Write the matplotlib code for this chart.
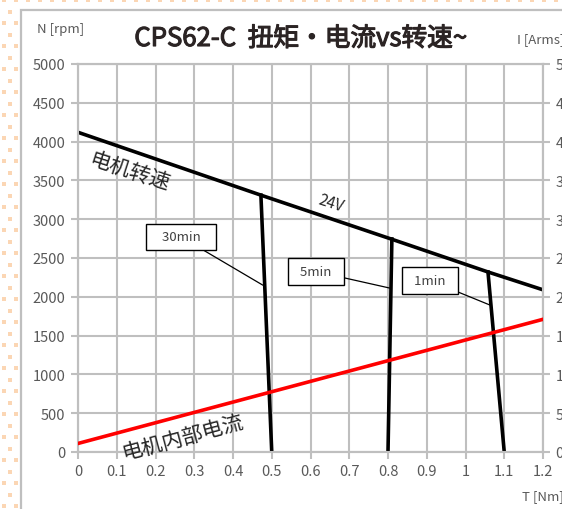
import matplotlib
matplotlib.use("Agg")
import matplotlib.pyplot as plt
import matplotlib.patheffects as pe
from matplotlib.patches import Rectangle
import numpy as np

plt.rcParams['font.family'] = ['Noto Sans CJK JP', 'DejaVu Sans']

# speed-torque line at 24V
torque = [0, 0.472, 0.805, 1.058, 1.2]
speed = [4120, 3310, 2750, 2320, 2090]

# duty limit lines (torque, speed)
lim_30min_t = [0.472, 0.50]
lim_30min_n = [3310, 0]
lim_5min_t = [0.81, 0.80]
lim_5min_n = [2745, 0]
lim_1min_t = [1.058, 1.10]
lim_1min_n = [2320, 0]

# internal current (right axis)
cur_t = [0, 1.2]
cur_i = [1.1, 17.1]

xticks = np.round(np.arange(0, 1.21, 0.1), 1)
xlabels = ['0'] + ['%g' % v for v in xticks[1:]]
yticks = list(range(0, 5001, 500))
y2ticks = list(range(0, 51, 5))

W, H = 562, 510
fig = plt.figure(figsize=(W / 100, H / 100), dpi=100)

# dotted page background + chart frame
bg = fig.add_axes([0, 0, 1, 1])
bg.set_xlim(0, W)
bg.set_ylim(H, 0)
bg.axis('off')
dx, dy = [], []
for r, yy in enumerate(np.arange(1, H, 11.5)):
    off = 4 if r % 2 == 0 else 10
    for xx in np.arange(off, W, 12):
        dx.append(xx)
        dy.append(yy)
bg.scatter(dx, dy, s=5, marker='s', color='#fbd6b4', linewidths=0)
bg.add_patch(Rectangle((21, 11), 700, 700, facecolor='white', edgecolor='#bfbfbf', lw=1.6))

ax = fig.add_axes([78 / W, 57 / H, 465 / W, 388 / H])
ax.set_facecolor('none')
ax2 = ax.twinx()

grid_c = '#bfbfbf'
ax.set_xlim(0, 1.2)
ax.set_ylim(0, 5000)
ax.set_xticks(xticks)
ax.set_xticklabels(xlabels)
ax.set_yticks(yticks)
ax.grid(color=grid_c, lw=1.5, zorder=0)
ax.set_axisbelow(True)
ax2.set_ylim(0, 50)
ax2.set_yticks(y2ticks)
for a in (ax, ax2):
    for s in a.spines.values():
        s.set_color(grid_c)
        s.set_linewidth(1.5)
    a.tick_params(colors='#595959', labelsize=10.5, length=5, width=1.5, pad=4)
    a.tick_params(color=grid_c)

ax.plot(torque, speed, color='black', lw=2.6, zorder=3)
ax.plot(lim_30min_t, lim_30min_n, color='black', lw=2.6, zorder=3)
ax.plot(lim_5min_t, lim_5min_n, color='black', lw=2.6, zorder=3)
ax.plot(lim_1min_t, lim_1min_n, color='black', lw=2.6, zorder=3)
ax2.plot(cur_t, cur_i, color='#ff0000', lw=2.6, zorder=3)

box = dict(boxstyle='square,pad=0.5', fc='white', ec='black', lw=1.0)
arrow = dict(arrowstyle='-', color='black', lw=0.9, shrinkA=0, shrinkB=0)
ax.annotate('   30min   ', xy=(0.477, 2150), xytext=(0.266, 2771), fontsize=9.5, color='#404040',
            ha='center', va='center', bbox=box, arrowprops=arrow, zorder=4)
ax.annotate('  5min  ', xy=(0.804, 2113), xytext=(0.614, 2326), fontsize=9.5, color='#404040',
            ha='center', va='center', bbox=box, arrowprops=arrow, zorder=4)
ax.annotate('  1min  ', xy=(1.063, 1894), xytext=(0.908, 2210), fontsize=9.5, color='#404040',
            ha='center', va='center', bbox=box, arrowprops=arrow, zorder=4)

fig.text(130 / W, 1 - 172 / H, '电机转速', fontsize=15, rotation=-18, ha='center', va='center', color='#262626')
fig.text(331 / W, 1 - 204 / H, '24V', fontsize=11, rotation=-18, style='italic', ha='center', va='center', color='#262626')
fig.text(183 / W, 1 - 438 / H, '电机内部电流', fontsize=15, rotation=15, ha='center', va='center', color='#262626')

fig.text(301 / W, 1 - 40 / H, 'CPS62-C  扭矩・电流vs转速~', fontsize=18.5,
         ha='center', va='center', color='#2b2424',
         path_effects=[pe.withStroke(linewidth=0.8, foreground='#2b2424')])
fig.text(37 / W, 1 - 30 / H, 'N [rpm]', fontsize=9.5, ha='left', va='center', color='#595959')
fig.text(517 / W, 1 - 40 / H, 'I [Arms]', fontsize=9.5, ha='left', va='center', color='#595959')
fig.text(522 / W, 1 - 497 / H, 'T [Nm]', fontsize=9.5, ha='left', va='center', color='#595959')

fig.savefig('out.png', dpi=100)
